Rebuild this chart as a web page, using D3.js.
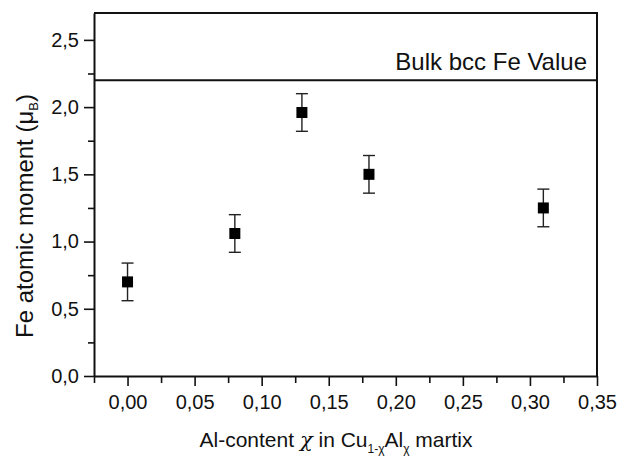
<!DOCTYPE html>
<html>
<head>
<meta charset="utf-8">
<script src="https://cdn.jsdelivr.net/npm/d3@7"></script>
<style>
  html, body { margin: 0; padding: 0; background: #fff; overflow: hidden; }
  svg { display: block; font-family: "Liberation Sans", Arial, sans-serif; }
</style>
</head>
<body>
<div id="chart"></div>
<script>
// data
const alContent = [0.00, 0.08, 0.13, 0.18, 0.31];
const feMoment = [0.70, 1.06, 1.96, 1.50, 1.25];
const feError = [0.14, 0.14, 0.14, 0.14, 0.14];
const bulkValue = 2.2;
const xTicks = [0, 0.05, 0.10, 0.15, 0.20, 0.25, 0.30, 0.35];
const xMinorTicks = [-0.025, 0.025, 0.075, 0.125, 0.175, 0.225, 0.275, 0.325];
const yTicks = [0, 0.5, 1.0, 1.5, 2.0, 2.5];
const yMinorTicks = [0.25, 0.75, 1.25, 1.75, 2.25];

const width = 617, height = 460;
const margin = { top: 13, right: 20, bottom: 84, left: 94 };
const innerWidth = width - margin.left - margin.right;
const innerHeight = height - margin.top - margin.bottom;

const svg = d3.select("#chart")
    .append("svg")
    .attr("width", width)
    .attr("height", height)
    .attr("viewBox", `0 0 ${width} ${height}`);

const g = svg.append("g")
    .attr("transform", `translate(${margin.left},${margin.top})`);

const x = d3.scaleLinear()
    .domain([-0.025, 0.35])
    .range([0, innerWidth]);

const y = d3.scaleLinear()
    .domain([0, 2.7])
    .range([innerHeight, 0]);

const comma = f => v => d3.format(f)(v).replace(".", ",");

// minor ticks (no labels)
g.append("g")
    .attr("transform", `translate(0,${innerHeight})`)
    .call(d3.axisBottom(x).tickValues(xMinorTicks).tickSize(7))
    .call(a => a.select(".domain").remove())
    .call(a => a.selectAll("text").remove())
    .selectAll("line").attr("stroke", "#111").attr("stroke-width", 1.6);

g.append("g")
    .call(d3.axisLeft(y).tickValues(yMinorTicks).tickSize(6))
    .call(a => a.select(".domain").remove())
    .call(a => a.selectAll("text").remove())
    .selectAll("line").attr("stroke", "#111").attr("stroke-width", 1.6);

// major axes
const xAxis = g.append("g")
    .attr("transform", `translate(0,${innerHeight})`)
    .call(d3.axisBottom(x).tickValues(xTicks).tickSize(10).tickSizeOuter(0).tickPadding(9).tickFormat(comma(".2f")));
xAxis.select(".domain").attr("stroke", "#111").attr("stroke-width", 2);
xAxis.selectAll(".tick line").attr("stroke", "#111").attr("stroke-width", 1.6);
xAxis.selectAll("text").attr("fill", "#111").style("font-size", "20px");

const yAxis = g.append("g")
    .call(d3.axisLeft(y).tickValues(yTicks).tickSize(10).tickSizeOuter(0).tickPadding(5).tickFormat(comma(".1f")));
yAxis.select(".domain").attr("stroke", "#111").attr("stroke-width", 2);
yAxis.selectAll(".tick line").attr("stroke", "#111").attr("stroke-width", 1.6);
yAxis.selectAll("text").attr("fill", "#111").style("font-size", "20px");

// top and right frame
g.append("path")
    .attr("d", `M0,0H${innerWidth}V${innerHeight}`)
    .attr("fill", "none")
    .attr("stroke", "#111")
    .attr("stroke-width", 2);

// bulk bcc Fe reference line
g.append("line")
    .attr("x1", 0)
    .attr("x2", innerWidth)
    .attr("y1", y(bulkValue))
    .attr("y2", y(bulkValue))
    .attr("stroke", "#111")
    .attr("stroke-width", 2);

g.append("text")
    .attr("x", innerWidth - 10)
    .attr("y", y(bulkValue) - 10)
    .attr("text-anchor", "end")
    .attr("fill", "#111")
    .style("font-size", "24px")
    .text("Bulk bcc Fe Value");

// error bars and points
const points = alContent.map((a, i) => ({ a, m: feMoment[i], e: feError[i] }));

const err = g.selectAll(".err")
    .data(points)
    .enter()
    .append("g")
    .attr("class", "err")
    .attr("stroke", "#222")
    .attr("stroke-width", 1.4);

err.append("line")
    .attr("x1", d => x(d.a)).attr("x2", d => x(d.a))
    .attr("y1", d => y(d.m - d.e)).attr("y2", d => y(d.m + d.e));
err.append("line")
    .attr("x1", d => x(d.a) - 6).attr("x2", d => x(d.a) + 6)
    .attr("y1", d => y(d.m + d.e)).attr("y2", d => y(d.m + d.e));
err.append("line")
    .attr("x1", d => x(d.a) - 6).attr("x2", d => x(d.a) + 6)
    .attr("y1", d => y(d.m - d.e)).attr("y2", d => y(d.m - d.e));

g.selectAll(".pt")
    .data(points)
    .enter()
    .append("rect")
    .attr("class", "pt")
    .attr("x", d => x(d.a) - 5.5)
    .attr("y", d => y(d.m) - 5.5)
    .attr("width", 11)
    .attr("height", 11)
    .attr("fill", "#000");

// axis titles
const xTitle = svg.append("text")
    .attr("x", 336)
    .attr("y", 447)
    .attr("text-anchor", "middle")
    .attr("fill", "#111")
    .style("font-size", "21px");
xTitle.append("tspan").text("Al-content ");
xTitle.append("tspan").style("font-family", "DejaVu Serif").style("font-style", "italic").text("χ");
xTitle.append("tspan").text(" in  Cu");
xTitle.append("tspan").attr("dy", 6).style("font-size", "12px").text("1-χ");
xTitle.append("tspan").attr("dy", -6).text("Al");
xTitle.append("tspan").attr("dy", 6).style("font-size", "12px").text("χ");
xTitle.append("tspan").attr("dy", -6).text(" martix");

const yTitle = svg.append("text")
    .attr("transform", "translate(33,216) rotate(-90)")
    .attr("text-anchor", "middle")
    .attr("fill", "#111")
    .style("font-size", "24px");
yTitle.append("tspan").text("Fe atomic moment (μ");
yTitle.append("tspan").attr("dy", 5).style("font-size", "13px").text("B");
yTitle.append("tspan").attr("dy", -5).text(")");
</script>
</body>
</html>
